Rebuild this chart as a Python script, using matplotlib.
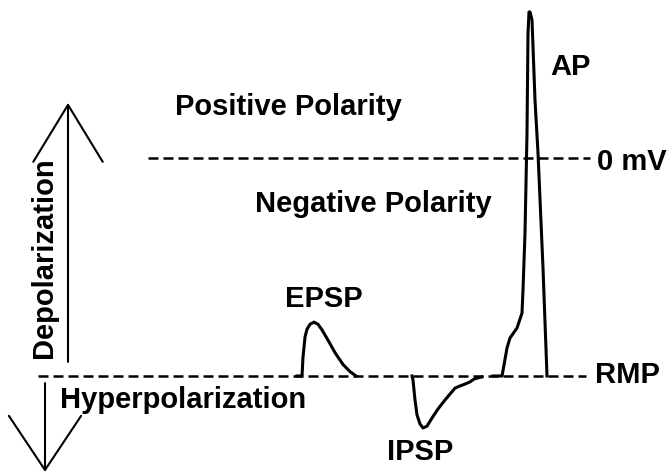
import matplotlib
matplotlib.use("Agg")
import matplotlib.pyplot as plt

# ====================================
# DATA (time in arbitrary units, membrane potential in mV)
# ====================================

ZERO_MV = 0.0
RMP_MV = -70.0

epsp_t = [297, 302, 303, 305, 307, 310, 314, 318, 322, 328, 335, 343, 350, 356]
epsp_v = [-70.0, -70.0, -64.0, -57.5, -55.0, -53.4, -52.7, -53.4, -55.2, -58.5, -62.5, -66.3, -68.6, -70.0]

ipsp_t = [412, 413, 415, 417, 420, 423, 427, 432, 438, 445, 450, 455, 460, 465, 470, 474, 478, 482]
ipsp_v = [-70.0, -71.3, -77.7, -82.5, -85.4, -86.7, -86.1, -83.5, -80.6, -77.7,
          -75.8, -73.9, -73.2, -72.6, -71.9, -71.0, -70.6, -70.3]

ap_t = [493, 502, 504, 507, 510, 517, 522, 523, 525, 527, 528, 529, 530,
        532, 535, 538, 543, 547]
ap_v = [-70.0, -70.0, -66.5, -61.0, -57.8, -54.6, -49.8, -42.4, -24.1, 8.0,
        40.1, 46.9, 46.9, 44.3, 18.6, 1.6, -35.3, -70.0]

# ====================================
# FIGURE
# ====================================

PX = 3.114  # pixels per mV
fig = plt.figure(figsize=(6.67, 4.73), dpi=100)
ax = fig.add_axes([0, 0, 1, 1])
ax.set_xlim(0, 667)
ax.set_ylim(-(473 - 158) / PX, 158 / PX)
ax.axis("off")

plt.rcParams["font.family"] = ["Liberation Sans", "DejaVu Sans"]
font = dict(fontsize=21, fontweight="bold", color="black")

# reference lines
l0, = ax.plot([148, 590], [ZERO_MV, ZERO_MV], color="black", lw=1.8)
l0.set_dashes((4, 2))
l1, = ax.plot([38, 586], [RMP_MV, RMP_MV], color="black", lw=1.8)
l1.set_dashes((4, 2))

# potentials
for t, v in [(epsp_t, epsp_v), (ipsp_t, ipsp_v), (ap_t, ap_v)]:
    ax.plot(t, v, color="black", lw=2.2, solid_joinstyle="round")

# arrows
arrow = dict(arrowstyle="->,head_length=4.1,head_width=2.5", color="black",
             lw=1.5, shrinkA=0, shrinkB=0, mutation_scale=10)
ax.annotate("", xy=(68, 17.7), xytext=(68, -65.5), arrowprops=arrow)
arrow2 = dict(arrow, arrowstyle="->,head_length=3.9,head_width=2.6")
ax.annotate("", xy=(45, -100.8), xytext=(45, -72.3), arrowprops=arrow2)

# labels
ax.text(175, 13.8, "Positive Polarity", ha="left", va="baseline", **font)
ax.text(255, -17.3, "Negative Polarity", ha="left", va="baseline", **font)
ax.text(285, -47.8, "EPSP", ha="left", va="baseline", **font)
ax.text(387, -97.0, "IPSP", ha="left", va="baseline", **font)
ax.text(550, 26.7, "AP", ha="left", va="baseline", **font)
ax.text(597, -3.9, "0 mV", ha="left", va="baseline", **font)
ax.text(595, -72.3, "RMP", ha="left", va="baseline", **font)
ax.text(60, -80.3, "Hyperpolarization", ha="left", va="baseline", **font)
ax.text(44, -32.0, "Depolarization", ha="center", va="center", rotation=90, **font)

plt.savefig("out.png", dpi=100)
